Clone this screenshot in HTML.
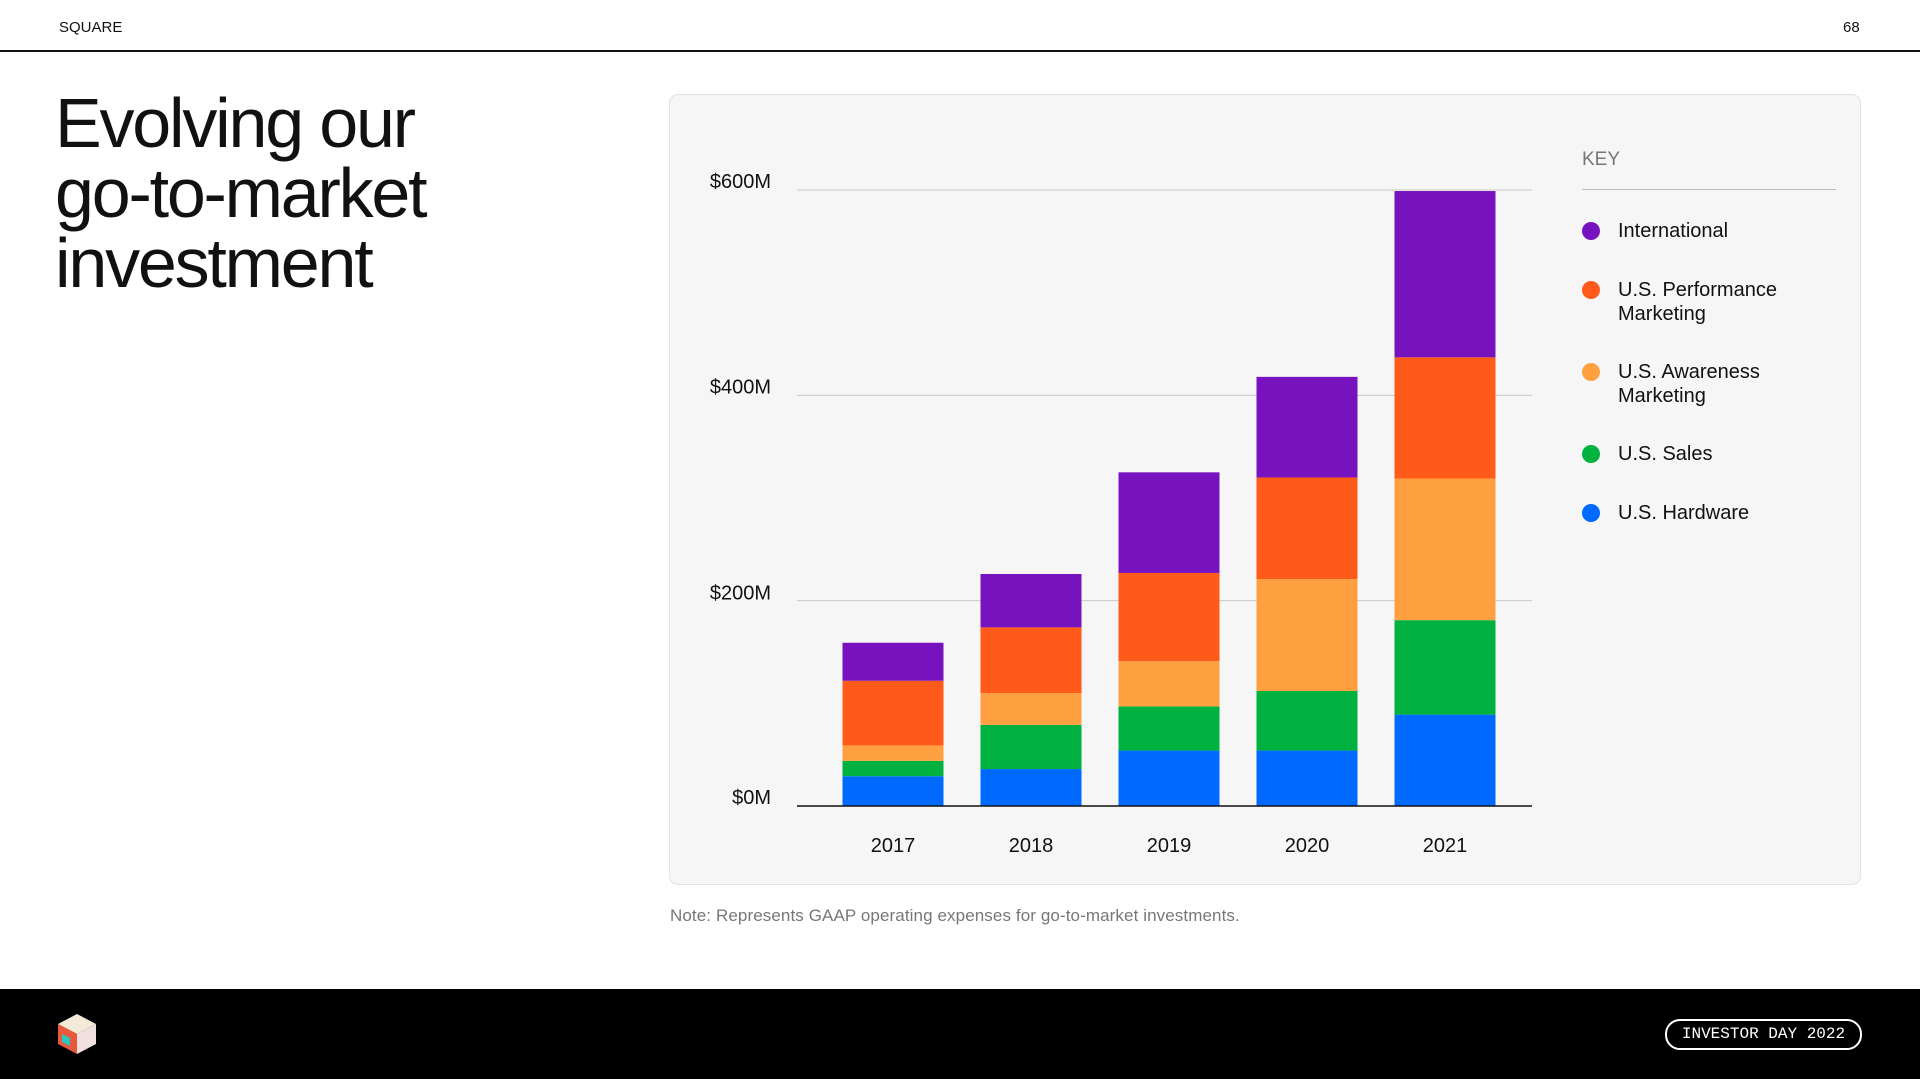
<!DOCTYPE html>
<html><head><meta charset="utf-8"><style>
body{margin:0;width:1920px;height:1079px;position:relative;background:#fff;font-family:"Liberation Sans",sans-serif;overflow:hidden}
.abs{position:absolute}
</style></head><body>
<div class="abs" style="left:59px;top:19px;font-size:15px;color:#111">SQUARE</div>
<div class="abs" style="left:1843px;top:19px;font-size:15px;color:#111">68</div>
<div class="abs" style="left:0;top:50px;width:1920px;height:2px;background:#111"></div>
<div class="abs" style="left:55px;top:88px;font-size:70px;line-height:70px;letter-spacing:-2.2px;color:#111">Evolving our<br>go-to-market<br>investment</div>
<div class="abs" style="left:669px;top:94px;width:1190px;height:789px;background:#f6f6f6;border:1px solid #e2e2e2;border-radius:9px"></div>
<svg class="abs" style="left:0;top:0" width="1920" height="1079" id="chart"></svg>
<div class="abs" style="left:1582px;top:149px;font-size:19px;color:#777">KEY</div>
<div class="abs" style="left:1582px;top:189px;width:254px;height:1px;background:#bbb"></div>
<div id="legend"></div>
<div class="abs" style="left:670px;top:906px;font-size:17px;color:#777;letter-spacing:0.1px">Note: Represents GAAP operating expenses for go-to-market investments.</div>
<div class="abs" style="left:0;top:989px;width:1920px;height:90px;background:#000"></div>
<svg class="abs" style="left:56px;top:1012px" width="42" height="44" viewBox="0 0 42 44">
<polygon points="21,2 40,12 21,22 2,12" fill="#f3ead8"/><polygon points="2,12 21,22 21,42 2,32" fill="#e8583c"/><polygon points="21,22 40,12 40,32 21,42" fill="#f0e0e0"/><polygon points="6,22 14,26 14,34 6,30" fill="#28c8c0"/></svg>
<div class="abs" style="left:1665px;top:1019px;width:193px;height:27px;border:2px solid #fff;border-radius:15px;color:#fff;font-family:'Liberation Mono',monospace;font-size:16px;line-height:27px;text-align:center">INVESTOR DAY 2022</div>
<script>
const years=['2017','2018','2019','2020','2021'];
const hardware=[29,36,54,54,89];
const sales=[15,43,43,58,92];
const awareness=[15,31,44,109,138];
const performance=[63,64,86,99,118];
const international=[37,52,98,98,162];
const ticks=[0,200,400,600];
const tickLabels=['$0M','$200M','$400M','$600M'];
const seriesNames=['International','U.S. Performance Marketing','U.S. Awareness Marketing','U.S. Sales','U.S. Hardware'];
const NS='http://www.w3.org/2000/svg';
const svg=document.getElementById('chart');
const y=v=>806-v*(616/600);
const x=i=>893+i*138;
function mk(t,a){const e=document.createElementNS(NS,t);for(const k in a)e.setAttribute(k,a[k]);svg.appendChild(e);return e;}
ticks.forEach((t,i)=>{
 if(t>0){const g=mk('line',{x1:797,x2:1532,y1:y(t),y2:y(t),stroke:'#c8c8c8','stroke-width':1});
 
 }
 const l=mk('text',{x:771,y:y(t)+(t==0?-2:(t==200?-1:-2)),'text-anchor':'end','font-size':20,fill:'#111','font-family':'Liberation Sans'});
 l.textContent=tickLabels[i];
 
 
});
const stacks=[[hardware,'#006aff'],[sales,'#00b140'],[awareness,'#ffa040'],[performance,'#ff5a1a'],[international,'#7713be']];
years.forEach((yr,i)=>{
 let base=0;
 stacks.forEach(([arr,c])=>{
  const r=mk('rect',{x:x(i)-50.5,width:101,y:y(base+arr[i]),height:y(base)-y(base+arr[i]),fill:c});
  
  
  base+=arr[i];
 });
 const t=mk('text',{x:x(i),y:852,'text-anchor':'middle','font-size':20,fill:'#111','font-family':'Liberation Sans'});
 t.textContent=yr;
 
 
});
const ax=mk('line',{x1:797,x2:1532,y1:806,y2:806,stroke:'#111','stroke-width':1.5});


const lc=['#7713be','#ff5a1a','#ffa040','#00b140','#006aff'];
const ly=[231,290,372,454,513];
const lg=document.getElementById('legend');
seriesNames.forEach((n,i)=>{
 const d=document.createElement('div');
 
 
 d.className='abs';d.style.cssText=`left:1582px;top:${ly[i]-12}px;width:260px;font-size:20px;line-height:24px;color:#111`;
 const words=n.split(' ');
 const txt=n.length>15?words.slice(0,2).join(' ')+'<br>'+words.slice(2).join(' '):n;
 d.innerHTML=`<span style="position:absolute;left:0;top:3px;width:18px;height:18px;border-radius:50%;background:${lc[i]}"></span><span style="position:absolute;left:36px;top:0;white-space:nowrap">${txt}</span>`;
 lg.appendChild(d);
});
</script>
</body></html>
